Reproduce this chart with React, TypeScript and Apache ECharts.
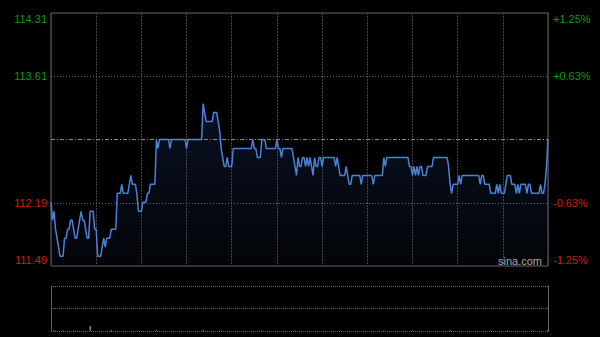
import React, { useEffect, useRef } from "react";
import * as echarts from "echarts";

// Intraday prices, one per minute (330 minutes, HK session)
const prices: number[] = [
  112.2, 112.0, 112.1, 111.9, 111.8, 111.7, 111.6, 111.6, 111.6, 111.8,
  111.8, 111.9, 111.9, 112.0, 112.0, 111.9, 111.8, 111.8, 111.9, 112.0,
  112.1, 112.0, 112.0, 111.9, 111.8, 111.8, 112.1, 112.1, 112.1, 111.9,
  111.9, 111.6, 111.6, 111.6, 111.7, 111.8, 111.7, 111.8, 111.8, 111.8,
  111.9, 111.9, 111.9, 111.9, 112.3, 112.3, 112.3, 112.4, 112.3, 112.3,
  112.3, 112.3, 112.4, 112.5, 112.4, 112.4, 112.4, 112.3, 112.1, 112.1,
  112.1, 112.2, 112.2, 112.2, 112.3, 112.3, 112.4, 112.4, 112.4, 112.4,
  112.9, 112.8, 112.9, 112.9, 112.9, 112.9, 112.9, 112.9, 112.9, 112.8,
  112.9, 112.9, 112.9, 112.9, 112.9, 112.9, 112.9, 112.9, 112.9, 112.9,
  112.8, 112.9, 112.9, 112.9, 112.9, 112.9, 112.9, 112.9, 112.9, 112.9,
  112.9, 113.3, 113.2, 113.1, 113.1, 113.1, 113.1, 113.1, 113.2, 113.2,
  113.2, 113.1, 113.0, 112.8, 112.7, 112.6, 112.6, 112.7, 112.6, 112.6,
  112.6, 112.8, 112.8, 112.8, 112.8, 112.8, 112.8, 112.8, 112.8, 112.8,
  112.8, 112.8, 112.8, 112.8, 112.9, 112.8, 112.8, 112.7, 112.7, 112.7,
  112.9, 112.9, 112.9, 112.8, 112.8, 112.8, 112.8, 112.8, 112.8, 112.8,
  112.9, 112.8, 112.8, 112.7, 112.8, 112.8, 112.8, 112.8, 112.8, 112.8,
  112.8, 112.7, 112.6, 112.5, 112.7, 112.6, 112.6, 112.7, 112.7, 112.6,
  112.7, 112.6, 112.7, 112.6, 112.5, 112.7, 112.6, 112.6, 112.7, 112.7,
  112.6, 112.7, 112.7, 112.7, 112.7, 112.7, 112.7, 112.7, 112.7, 112.6,
  112.7, 112.6, 112.5, 112.5, 112.5, 112.5, 112.6, 112.5, 112.4, 112.4,
  112.5, 112.5, 112.5, 112.5, 112.5, 112.5, 112.4, 112.5, 112.5, 112.5,
  112.5, 112.5, 112.5, 112.5, 112.4, 112.5, 112.5, 112.5, 112.5, 112.5,
  112.5, 112.7, 112.6, 112.7, 112.7, 112.7, 112.7, 112.7, 112.7, 112.7,
  112.7, 112.7, 112.7, 112.7, 112.7, 112.7, 112.7, 112.7, 112.6, 112.6,
  112.5, 112.6, 112.5, 112.6, 112.5, 112.6, 112.6, 112.5, 112.5, 112.5,
  112.6, 112.6, 112.6, 112.6, 112.7, 112.7, 112.7, 112.7, 112.7, 112.7,
  112.7, 112.7, 112.7, 112.7, 112.6, 112.4, 112.3, 112.4, 112.4, 112.4,
  112.4, 112.5, 112.4, 112.5, 112.5, 112.5, 112.5, 112.5, 112.5, 112.5,
  112.5, 112.5, 112.5, 112.5, 112.5, 112.4, 112.5, 112.5, 112.4, 112.4,
  112.4, 112.4, 112.3, 112.3, 112.3, 112.3, 112.4, 112.3, 112.4, 112.3,
  112.3, 112.3, 112.4, 112.5, 112.5, 112.5, 112.4, 112.4, 112.4, 112.3,
  112.4, 112.3, 112.4, 112.4, 112.4, 112.4, 112.3, 112.4, 112.4, 112.3,
  112.3, 112.3, 112.3, 112.3, 112.3, 112.4, 112.3, 112.3, 112.4, 112.6,
  112.9,
];

const prevClose = 112.9;
const priceMin = 111.49;
const priceMax = 114.31;
const priceTicks = [111.49, 112.19, 113.61, 114.31];
const priceGuides = [113.61, 112.19];
const minutesTotal = 330;
const minuteStep = 30;

// Volume: [minute index, volume] (mostly negligible)
const volumes: number[][] = [
  [2, 1.5], [8, 1], [15, 1.2], [26, 11], [40, 1.5], [58, 1], [70, 1.8],
  [101, 1.5], [113, 1.2], [140, 1], [162, 1.2], [192, 1], [221, 1.2],
  [240, 1], [265, 1.5], [292, 1], [303, 1.2], [320, 1], [330, 2],
];
const volumeMax = 100;

const GREEN = "#0a9e0a";
const RED = "#d41c0c";
const FONT = "'Liberation Sans', Arial, sans-serif";

export default function App() {
  const ref = useRef<HTMLDivElement>(null);

  useEffect(() => {
    if (!ref.current) return;
    const chart = echarts.init(ref.current, null, { renderer: "svg" });
    const fmtRich = (txt: string, v: number) => {
      const up = v > prevClose;
      if (v >= priceMax - 1e-6) return `{gt|${txt}}`;
      if (v <= priceMin + 1e-6) return `{rb|${txt}}`;
      return up ? `{g|${txt}}` : `{r|${txt}}`;
    };
    const rich = {
      gt: { color: GREEN, fontSize: 11, fontFamily: FONT, padding: [11, 0, 0, 0] },
      g: { color: GREEN, fontSize: 11, fontFamily: FONT },
      r: { color: RED, fontSize: 11, fontFamily: FONT },
      rb: { color: RED, fontSize: 11, fontFamily: FONT, padding: [0, 0, 12, 0] },
    };
    chart.setOption({
      animation: false,
      backgroundColor: "#000",
      grid: [
        { left: 51, top: 13, width: 497, height: 253, show: true, borderColor: "#666", borderWidth: 1, backgroundColor: "transparent" },
        { left: 51, top: 286, width: 497, height: 45, show: false },
      ],
      xAxis: [
        {
          type: "value", gridIndex: 0, min: 0, max: minutesTotal, interval: minuteStep,
          axisLine: { show: false }, axisTick: { show: false }, axisLabel: { show: false },
          splitLine: { show: true, lineStyle: { color: "#444", type: [2, 1], width: 1 } },
        },
        {
          type: "value", gridIndex: 1, min: 0, max: minutesTotal, interval: minuteStep,
          axisLine: { show: false }, axisTick: { show: false }, axisLabel: { show: false },
          splitLine: { show: false },
        },
      ],
      yAxis: [
        {
          type: "value", gridIndex: 0, min: priceMin, max: priceMax, position: "left",
          axisLine: { show: false }, axisTick: { show: false }, splitLine: { show: false },
          axisLabel: {
            customValues: priceTicks, margin: 4, fontSize: 11, fontFamily: FONT,
            formatter: (v: number) => fmtRich(v.toFixed(2), v), rich,
          },
        },
        {
          type: "value", gridIndex: 0, min: priceMin, max: priceMax, position: "right",
          axisLine: { show: false }, axisTick: { show: false }, splitLine: { show: false },
          axisLabel: {
            customValues: priceTicks, margin: 5, fontSize: 11, fontFamily: FONT,
            formatter: (v: number) => {
              const pct = ((v - prevClose) / prevClose) * 100;
              const t = (pct > 0 ? "+" : "") + pct.toFixed(2) + "%";
              return fmtRich(t, v);
            },
            rich,
          },
        },
        {
          type: "value", gridIndex: 1, min: 0, max: volumeMax, interval: volumeMax / 2, position: "left",
          axisLine: { show: true, lineStyle: { color: "#5e5e5e" } }, axisTick: { show: false }, axisLabel: { show: false },
          splitLine: { show: true, lineStyle: { color: "#6a6a6a", type: [1, 1] } },
        },
        {
          type: "value", gridIndex: 1, min: 0, max: volumeMax, position: "right",
          axisLine: { show: true, lineStyle: { color: "#666" } }, axisTick: { show: false }, axisLabel: { show: false },
          splitLine: { show: false },
        },
      ],
      series: [
        {
          type: "line",
          xAxisIndex: 0, yAxisIndex: 0,
          data: prices.map((p, i) => [i, p]),
          symbol: "none",
          lineStyle: { color: "#4a82d8", width: 1.5 },
          areaStyle: {
            origin: "start",
            color: new echarts.graphic.LinearGradient(0, 0, 0, 1, [
              { offset: 0, color: "rgba(40,75,150,0.32)" },
              { offset: 1, color: "rgba(40,75,150,0.08)" },
            ]),
          },
          markLine: {
            silent: true, symbol: "none", label: { show: false },
            data: [
              ...priceGuides.map((g) => ({ yAxis: g, lineStyle: { color: "#6a6a6a", type: [1, 2], width: 1 } })),
              { yAxis: prevClose, lineStyle: { color: "#8a8a8a", type: [4, 2, 1, 2], width: 1 } },
            ],
          },
          z: 3,
        },
        {
          type: "bar",
          xAxisIndex: 1, yAxisIndex: 2,
          data: volumes,
          barWidth: 1,
          itemStyle: { color: "#bbbbbb" },
        },
      ],
      graphic: [
        {
          type: "text", left: 498, top: 255,
          style: { text: "sina.com", fill: "#a8a8a8", fontSize: 11, fontFamily: FONT },
          z: 10,
        },
      ],
    });
    return () => chart.dispose();
  }, []);

  return (
    <div
      ref={ref}
      style={{ position: "fixed", left: 0, top: 0, width: 600, height: 337, background: "#000" }}
    />
  );
}
